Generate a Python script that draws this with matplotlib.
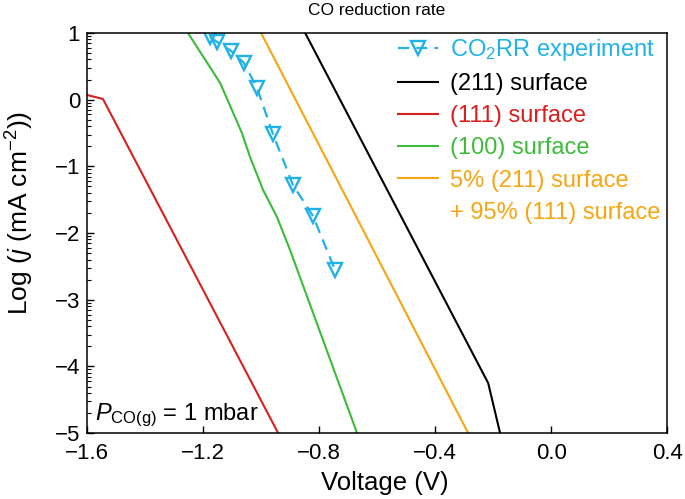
import numpy as np
import matplotlib
matplotlib.use('Agg')
import matplotlib.pyplot as plt
from matplotlib.lines import Line2D

# Fuente tipo Helvetica y mathtext con la misma familia
plt.rcParams['font.family'] = ['Liberation Sans', 'DejaVu Sans']
plt.rcParams['mathtext.fontset'] = 'custom'
plt.rcParams['mathtext.rm'] = 'Liberation Sans'
plt.rcParams['mathtext.it'] = 'Liberation Sans:italic'
plt.rcParams['axes.unicode_minus'] = True

# Datos
exp_v = [-1.176, -1.152, -1.103, -1.059, -1.014, -0.959, -0.890, -0.821, -0.745]
exp_logj = [0.94, 0.865, 0.73, 0.55, 0.175, -0.515, -1.28, -1.745, -2.555]

s211_v = [-0.848, -0.217, -0.176]
s211_logj = [1.0, -4.25, -5.0]

s111_v = [-1.60, -1.545, -0.941]
s111_logj = [0.07, 0.01, -5.0]

s100_v = [-1.252, -1.141, -1.066, -1.038, -0.993, -0.945, -0.900, -0.669]
s100_logj = [1.0, 0.25, -0.5, -0.86, -1.355, -1.76, -2.255, -5.0]

mix_v = [-1.000, -0.286]
mix_logj = [1.0, -5.0]

x_ticks = [-1.6, -1.2, -0.8, -0.4, 0.0, 0.4]
y_ticks = [1, 0, -1, -2, -3, -4, -5]

c_exp = '#1fb2e6'
c_211 = 'black'
c_111 = '#d9201f'
c_100 = '#3dbb3a'
c_mix = '#f5a612'

fig = plt.figure(figsize=(6.85, 4.99), dpi=100)
ax = fig.add_axes([0.127, 0.132, 0.847, 0.802])

h_exp, = ax.plot(exp_v, exp_logj, linestyle='--', dashes=(5, 3.2), color=c_exp, marker='v',
                 markersize=9.5, markerfacecolor='none', markeredgewidth=1.7, linewidth=1.6)
h_211, = ax.plot(s211_v, s211_logj, color=c_211, linewidth=1.5)
h_111, = ax.plot(s111_v, s111_logj, color=c_111, linewidth=1.5)
h_100, = ax.plot(s100_v, s100_logj, color=c_100, linewidth=1.5)
h_mix, = ax.plot(mix_v, mix_logj, color=c_mix, linewidth=1.5)
h_blank = Line2D([], [], color='none')

ax.set_xlim(-1.6, 0.4)
ax.set_ylim(-5, 1)
ax.set_xticks(x_ticks)
ax.set_xticklabels([f'{t:.1f}'.replace('-', '\u2212') for t in x_ticks])
ax.set_yticks(y_ticks)
ax.set_yticklabels([str(t).replace('-', '\u2212') for t in y_ticks])

# ticks menores tipo logarítmico en el eje y
minor = [k + np.log10(m) for k in range(-5, 1) for m in range(2, 10)]
ax.set_yticks(minor, minor=True)

ax.tick_params(axis='both', direction='in', labelsize=16, top=False, right=False,
               length=5, width=1)
ax.tick_params(axis='x', pad=7)
ax.tick_params(axis='y', pad=5)
ax.tick_params(axis='y', which='minor', direction='in', length=3, width=0.8, right=False)
for sp in ax.spines.values():
    sp.set_linewidth(1.1)

ax.set_xlabel('Voltage (V)', fontsize=18.5)
ax.xaxis.set_label_coords(0.514, -0.095)
ax.set_ylabel('Log ($j$ (mA cm$^{\u22122}$))', fontsize=19)
ax.yaxis.set_label_coords(-0.088, 0.55)
ax.set_title('CO reduction rate', fontsize=12.5, pad=13)

ax.text(0.014, 0.0325, '$P_{\\mathrm{CO(g)}}$ = 1 mbar', transform=ax.transAxes,
        fontsize=17, ha='left', va='baseline')

handles = [h_exp, h_211, h_111, h_100, h_mix, h_blank]
labels = ['CO$_2$RR experiment', '(211) surface', '(111) surface', '(100) surface',
          '5% (211) surface', '+ 95% (111) surface']
text_colors = [c_exp, c_211, c_111, c_100, c_mix, c_mix]

leg = ax.legend(handles, labels, loc='upper left', bbox_to_anchor=(0.536, 0.99),
                frameon=False, fontsize=17, handlelength=1.7, handletextpad=0.5,
                labelspacing=0.43, borderaxespad=0, borderpad=0)
for txt, col in zip(leg.get_texts(), text_colors):
    txt.set_color(col)

fig.savefig('out.png', dpi=100)
